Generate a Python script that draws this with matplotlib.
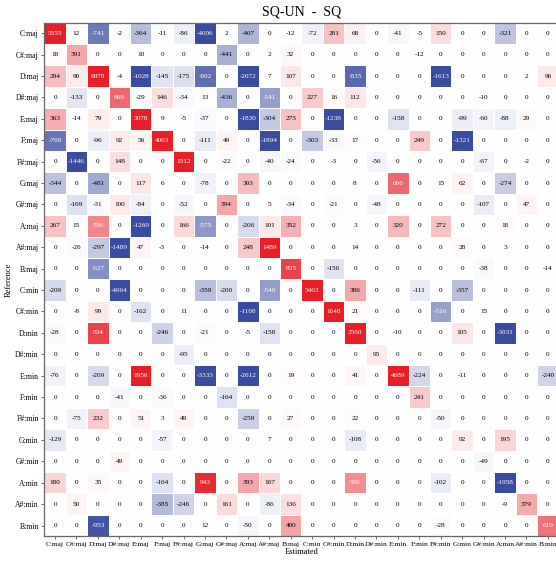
import matplotlib
matplotlib.use('Agg')
import matplotlib.pyplot as plt
import matplotlib.colors as mcolors
import numpy as np

plt.rcParams['font.family'] = ['Liberation Serif', 'DejaVu Serif']

chords = ['C:maj', 'C#:maj', 'D:maj', 'D#:maj', 'E:maj', 'F:maj', 'F#:maj', 'G:maj',
          'G#:maj', 'A:maj', 'A#:maj', 'B:maj', 'C:min', 'C#:min', 'D:min', 'D#:min',
          'E:min', 'F:min', 'F#:min', 'G:min', 'G#:min', 'A:min', 'A#:min', 'B:min']

# difference of confusion counts, rows = reference, cols = estimated
diff = [
    [5555, 12, -741, -2, -364, -11, -86, -4006, 2, -407, 0, -12, -72, 281, 68, 0, -41, -5, 150, 0, 0, -321, 0, 0],
    [18, 391, 0, 0, 10, 0, 0, 0, -441, 0, 2, 32, 0, 0, 0, 0, 0, -12, 0, 0, 0, 0, 0, 0],
    [294, 90, 6078, -4, -1028, -145, -175, -802, 0, -2072, 7, 107, 0, 0, -835, 0, 0, 0, -1613, 0, 0, 0, 2, 96],
    [0, -133, 0, 669, -29, 146, -34, 13, -436, 0, -541, 0, 227, 16, 112, 0, 0, 0, 0, 0, -10, 0, 0, 0],
    [363, -14, 79, 0, 3078, 9, -5, -37, 0, -1830, -304, 275, 0, -1238, 0, 0, -158, 0, 0, -99, -60, -88, 29, 0],
    [-768, 0, -96, 92, 56, 4063, 0, -111, 49, 0, -1894, 0, -303, -33, 17, 0, 0, 249, 0, -1321, 0, 0, 0, 0],
    [0, -1446, 0, 148, 0, 0, 1512, 0, -22, 0, -40, -24, 0, -3, 0, -56, 0, 0, 0, 0, -67, 0, -2, 0],
    [-344, 0, -481, 0, 117, 6, 0, -78, 0, 303, 0, 0, 0, 0, 8, 0, 666, 0, 15, 62, 0, -274, 0, 0],
    [0, -169, -31, 100, -84, 0, -52, 0, 394, 0, 5, -34, 0, -21, 0, -48, 0, 0, 0, 0, -107, 0, 47, 0],
    [267, 15, 536, 0, -1269, 0, 166, -575, 0, -206, 101, 352, 0, 0, 3, 0, 320, 0, 272, 0, 0, 18, 0, 0],
    [0, -26, -297, -1489, 47, -3, 0, -14, 0, 248, 1489, 0, 0, 0, 14, 0, 0, 0, 0, 28, 0, 3, 0, 0],
    [0, 0, -627, 0, 0, 0, 0, 0, 0, 0, 0, 835, 0, -156, 0, 0, 0, 0, 0, 0, -38, 0, 0, -14],
    [-209, 0, 0, -4064, 0, 0, 0, -359, -200, 0, -549, 0, 5463, 0, 386, 0, 0, -111, 0, -357, 0, 0, 0, 0],
    [0, -8, 99, 0, -162, 0, 11, 0, 0, -1108, 0, 0, 0, 1648, 21, 0, 0, 0, -516, 0, 15, 0, 0, 0],
    [-28, 0, 834, 0, 0, -246, 0, -21, 0, -5, -158, 0, 0, 0, 2560, 0, -10, 0, 0, 105, 0, -3031, 0, 0],
    [0, 0, 0, 0, 0, 0, -95, 0, 0, 0, 0, 0, 0, 0, 0, 95, 0, 0, 0, 0, 0, 0, 0, 0],
    [-76, 0, -209, 0, 1956, 0, 0, -3333, 0, -2612, 0, 19, 0, 0, 41, 0, 4689, -224, 0, -11, 0, 0, 0, -240],
    [0, 0, 0, -41, 0, -36, 0, 0, -164, 0, 0, 0, 0, 0, 0, 0, 0, 241, 0, 0, 0, 0, 0, 0],
    [0, -75, 232, 0, 51, 3, 49, 0, 0, -259, 0, 27, 0, 0, 22, 0, 0, 0, -50, 0, 0, 0, 0, 0],
    [-129, 0, 0, 0, 0, -57, 0, 0, 0, 0, 7, 0, 0, 0, -108, 0, 0, 0, 0, 92, 0, 195, 0, 0],
    [0, 0, 0, 49, 0, 0, 0, 0, 0, 0, 0, 0, 0, 0, 0, 0, 0, 0, 0, 0, -49, 0, 0, 0],
    [180, 0, 35, 0, 0, -164, 0, 943, 0, 393, 167, 0, 0, 0, 506, 0, 0, 0, -102, 0, 0, -1958, 0, 0],
    [0, 50, 0, 0, 0, -385, -246, 0, 161, 0, -86, 136, 0, 0, 0, 0, 0, 0, 0, 0, 0, -9, 379, 0],
    [0, 0, -953, 0, 0, 0, 0, 12, 0, -50, 0, 400, 0, 0, 0, 0, 0, 0, -28, 0, 0, 0, 0, 619],
]

g = np.array(diff)
n = len(chords)

cmap = mcolors.LinearSegmentedColormap.from_list('bwr2', ['#3a4c9f', '#ffffff', '#e61f28'])
norm = mcolors.Normalize(-1000, 1000)

fig = plt.figure(figsize=(5.56, 5.62), dpi=100)
ax = fig.add_axes([0.0797, 0.0459, 0.925, 0.914])

ax.pcolormesh(np.arange(n + 1), np.arange(n + 1), g, cmap=cmap, norm=norm,
              edgecolors='white', linewidth=0.4)
ax.set_xlim(0, n)
ax.set_ylim(n, 0)

for i in range(n):
    for j in range(n):
        v = g[i, j]
        c = 'white' if abs(v) >= 500 else 'black'
        ax.text(j + 0.5, i + 0.5, str(v), ha='center', va='center', fontsize=5.2, color=c)

ax.set_xticks(np.arange(n) + 0.5)
ax.set_yticks(np.arange(n) + 0.5)
ax.set_xticklabels(chords, fontsize=5.3)
ax.set_yticklabels(chords, fontsize=5.5)
ax.tick_params(length=2.5, width=0.6, pad=1.5, color='#555555')
for s in ax.spines.values():
    s.set_color('#666666')
    s.set_linewidth(0.9)

ax.set_xlabel('Estimated', fontsize=6, labelpad=1)
ax.set_ylabel('Reference', fontsize=6, labelpad=2)
ax.set_title('SQ-UN  -  SQ', fontsize=10, pad=5)

fig.savefig('out.png', dpi=100)
